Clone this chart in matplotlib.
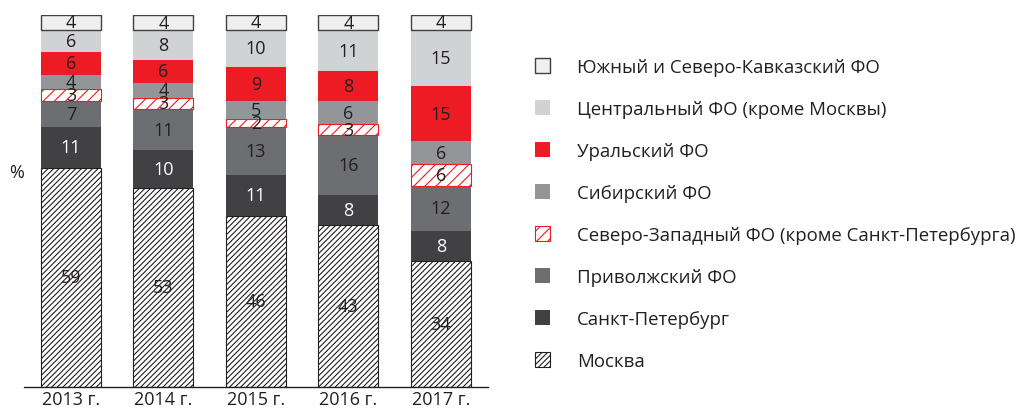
import matplotlib
matplotlib.use("Agg")
import matplotlib.pyplot as plt
from matplotlib.patches import Patch
import numpy as np

plt.rcParams['font.family'] = ['Open Sans', 'DejaVu Sans']
plt.rcParams['hatch.linewidth'] = 0.8

years = ["2013 г.", "2014 г.", "2015 г.", "2016 г.", "2017 г."]
series = [
    "Москва",
    "Санкт-Петербург",
    "Приволжский ФО",
    "Северо-Западный ФО (кроме Санкт-Петербурга)",
    "Сибирский ФО",
    "Уральский ФО",
    "Центральный ФО (кроме Москвы)",
    "Южный и Северо-Кавказский ФО",
]
moscow = [59, 53, 46, 43, 34]
spb = [11, 10, 11, 8, 8]
privolzh = [7, 11, 13, 16, 12]
northwest = [3, 3, 2, 3, 6]
siberia = [4, 4, 5, 6, 6]
ural = [6, 6, 9, 8, 15]
central = [6, 8, 10, 11, 15]
south = [4, 4, 4, 4, 4]
values = [moscow, spb, privolzh, northwest, siberia, ural, central, south]

styles = [
    dict(facecolor="white", edgecolor="#231f20", hatch="//////", lw=0.8),
    dict(facecolor="#414042", edgecolor="#414042", hatch=None, lw=0),
    dict(facecolor="#6d6e71", edgecolor="#6d6e71", hatch=None, lw=0),
    dict(facecolor="white", edgecolor="#ed1c24", hatch="///", lw=0.8),
    dict(facecolor="#939598", edgecolor="#939598", hatch=None, lw=0),
    dict(facecolor="#ed1c24", edgecolor="#ed1c24", hatch=None, lw=0),
    dict(facecolor="#d1d2d4", edgecolor="#d1d2d4", hatch=None, lw=0),
    dict(facecolor="#efefef", edgecolor="#414042", hatch=None, lw=1.0),
]
text_colors = ["#231f20", "white", "#231f20", "#231f20", "#231f20", "#231f20", "#231f20", "#231f20"]

fig = plt.figure(figsize=(10.17, 4.10), dpi=100)
ax = fig.add_axes([24 / 1017, 1 - 388 / 410, (488 - 24) / 1017, (388 - 16) / 410])

x = np.arange(len(years))
totals = np.sum(np.array(values, dtype=float), axis=0)
scale = 100.0 / totals  # bars in the source are drawn as 100 % stacks
bottom = np.zeros(len(years))
handles = []
for vals, st, tc, name in zip(values, styles, text_colors, series):
    vals = np.array(vals, dtype=float)
    h = vals * scale
    ax.bar(x, h, 0.65, bottom=bottom, facecolor=st["facecolor"],
           edgecolor=st["edgecolor"], hatch=st["hatch"], linewidth=st["lw"])
    for xi, b, hh, v in zip(x, bottom, h, vals):
        ax.text(xi, b + hh / 2, f"{int(v)}", ha="center", va="center",
                fontsize=13, color=tc)
    handles.append(Patch(facecolor=st["facecolor"], edgecolor=st["edgecolor"],
                         hatch=st["hatch"], linewidth=st["lw"] if st["lw"] else 0, label=name))
    bottom += h

ax.set_xlim(-0.508, 4.51)
ax.set_ylim(0, 100)
ax.set_xticks(x)
ax.set_xticklabels(years, fontsize=13, color="#231f20")
ax.tick_params(axis="x", length=0, pad=2)
ax.set_yticks([])
for s in ["top", "right", "left"]:
    ax.spines[s].set_visible(False)
ax.spines["bottom"].set_color("#231f20")
ax.spines["bottom"].set_linewidth(1.0)

fig.text(17 / 1017, 1 - 173 / 410, "%", fontsize=13, color="#231f20", ha="center", va="center")

leg = fig.legend(handles=handles[::-1], loc="upper left",
                 bbox_to_anchor=(535 / 1017, 1 - 59 / 410), frameon=False,
                 fontsize=13.4, labelspacing=1.29, handlelength=0.8, handleheight=0.8,
                 handletextpad=1.45, borderpad=0, borderaxespad=0, labelcolor="#231f20")

fig.savefig("out.png", dpi=100)
